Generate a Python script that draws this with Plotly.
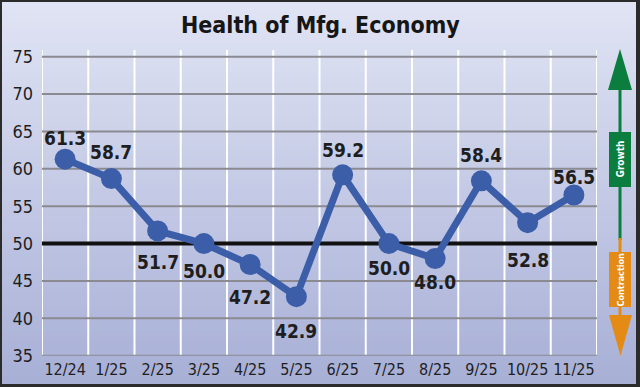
import plotly.graph_objects as go

months = ["12/24", "1/25", "2/25", "3/25", "4/25", "5/25", "6/25", "7/25", "8/25", "9/25", "10/25", "11/25"]
values = [61.3, 58.7, 51.7, 50.0, 47.2, 42.9, 59.2, 50.0, 48.0, 58.4, 52.8, 56.5]
label_shift = [21, 27, -31, -27, -32, -34, 25, -24, -23, 26, -37, 18]
y_ticks = [35, 40, 45, 50, 55, 60, 65, 70, 75]
threshold = 50

W, H = 640, 387
FONT = "DejaVu Sans Condensed, Liberation Sans Narrow, sans-serif"
LINE_BLUE = "#3c5ea8"
GREEN = "#0b7d3e"
ORANGE = "#e48b16"
GRID = "#8a8a90"

def fx(px):
    return px / W

def fy(py):
    return 1 - py / H

fig = go.Figure()
fig.add_trace(go.Scatter(
    x=list(range(len(months))), y=values, mode="lines+markers",
    line=dict(color=LINE_BLUE, width=7),
    marker=dict(color=LINE_BLUE, size=21),
    cliponaxis=False, hoverinfo="skip", showlegend=False,
))

shapes = []
# gradient background
top = (0xe1, 0xe4, 0xf4)
bot = (0xa7, 0xaf, 0xd6)
n = 70
for i in range(n):
    t = i / (n - 1)
    c = tuple(round(top[k] + (bot[k] - top[k]) * t) for k in range(3))
    shapes.append(dict(type="rect", xref="paper", yref="paper", x0=0, x1=1,
                       y0=max(0, 1 - (i + 1) / n - 0.002), y1=1 - i / n,
                       fillcolor="rgb(%d,%d,%d)" % c, line=dict(width=0), layer="below"))
# horizontal gray grid
for v in y_ticks:
    shapes.append(dict(type="line", xref="x", yref="y", x0=-0.5, x1=len(months) - 0.5, y0=v, y1=v,
                       line=dict(color=GRID, width=2), layer="below"))
# vertical white lines
for i in range(len(months) + 1):
    shapes.append(dict(type="line", xref="x", yref="paper", x0=i - 0.5, x1=i - 0.5, y0=fy(355), y1=fy(50),
                       line=dict(color="white", width=2), layer="below"))
# threshold line
shapes.append(dict(type="line", xref="x", yref="y", x0=-0.5, x1=len(months) - 0.5, y0=threshold, y1=threshold,
                   line=dict(color="#111111", width=4), layer="below"))

# right arrows
shapes += [
    dict(type="line", xref="paper", yref="paper", x0=fx(620), x1=fx(620), y0=fy(88), y1=fy(240),
         line=dict(color=GREEN, width=3)),
    dict(type="path", xref="paper", yref="paper",
         path="M %f,%f L %f,%f L %f,%f Z" % (fx(620), fy(49), fx(608), fy(90), fx(632), fy(90)),
         fillcolor=GREEN, line=dict(width=0)),
    dict(type="rect", xref="paper", yref="paper", x0=fx(609), x1=fx(631), y0=fy(187), y1=fy(132),
         fillcolor=GREEN, line=dict(width=0)),
    dict(type="line", xref="paper", yref="paper", x0=fx(620), x1=fx(620), y0=fy(238), y1=fy(318),
         line=dict(color=ORANGE, width=3)),
    dict(type="path", xref="paper", yref="paper",
         path="M %f,%f L %f,%f L %f,%f Z" % (fx(609), fy(315), fx(632), fy(315), fx(620.5), fy(356)),
         fillcolor=ORANGE, line=dict(width=0)),
    dict(type="rect", xref="paper", yref="paper", x0=fx(609), x1=fx(631), y0=fy(307), y1=fy(252),
         fillcolor=ORANGE, line=dict(width=0)),
]
# frame
BORDER = "#2b2b2b"
shapes += [
    dict(type="rect", xref="paper", yref="paper", x0=0, x1=fx(2), y0=0, y1=1, fillcolor=BORDER, line=dict(width=0)),
    dict(type="rect", xref="paper", yref="paper", x0=fx(636), x1=1, y0=0, y1=1, fillcolor=BORDER, line=dict(width=0)),
    dict(type="rect", xref="paper", yref="paper", x0=0, x1=1, y0=fy(2), y1=1, fillcolor=BORDER, line=dict(width=0)),
    dict(type="rect", xref="paper", yref="paper", x0=0, x1=1, y0=0, y1=fy(384), fillcolor=BORDER, line=dict(width=0)),
]

annotations = []
for i, (v, s) in enumerate(zip(values, label_shift)):
    annotations.append(dict(x=i, y=v, xref="x", yref="y", text="%.1f" % v, showarrow=False,
                            xanchor="center", yanchor="middle",
                            yshift=s, font=dict(family=FONT, size=19, color="#1e1e1e", weight="bold")))
annotations += [
    dict(x=fx(620), y=fy(159.5), xref="paper", yref="paper", text="Growth", textangle=-90, showarrow=False,
         xanchor="center", yanchor="middle",
         font=dict(family=FONT, size=10, color="white", weight="bold")),
    dict(x=fx(620), y=fy(279.5), xref="paper", yref="paper", text="Contraction", textangle=-90, showarrow=False,
         xanchor="center", yanchor="middle",
         font=dict(family=FONT, size=9, color="white", weight="bold")),
    dict(x=fx(320), y=fy(25), xref="paper", yref="paper", text="Health of Mfg. Economy", showarrow=False,
         xanchor="center", yanchor="middle",
         font=dict(family=FONT, size=23, color="#161616", weight="bold")),
]

fig.update_layout(
    width=W, height=H, margin=dict(l=0, r=0, t=0, b=0, pad=0, autoexpand=False),
    paper_bgcolor="#c4c9e6", plot_bgcolor="rgba(0,0,0,0)",
    shapes=shapes, annotations=annotations, showlegend=False,
    xaxis=dict(domain=[fx(42), fx(597)], range=[-0.5, len(months) - 0.5],
               tickmode="array", tickvals=list(range(len(months))), ticktext=months,
               showgrid=False, zeroline=False, showline=False, automargin=False,
               ticks="", tickangle=0, ticklabelstandoff=2,
               tickfont=dict(family=FONT, size=16, color="#1e1e1e"), fixedrange=True),
    yaxis=dict(domain=[fy(355.7), fy(50)], range=[35, 75.9], tickmode="array", tickvals=y_ticks,
               showgrid=False, zeroline=False, showline=False, automargin=False,
               ticks="", ticklabelstandoff=8,
               tickfont=dict(family=FONT, size=18, color="#1e1e1e"), fixedrange=True),
)

fig.write_html("out.html", config={"displayModeBar": False},
               post_script="document.body.style.margin='0';document.body.style.overflow='hidden';")
